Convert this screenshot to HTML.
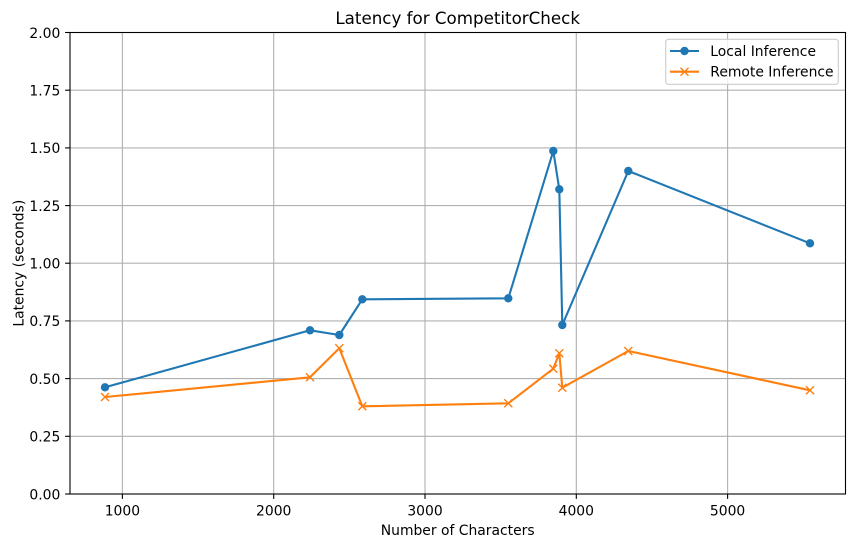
<!DOCTYPE html>
<html><head><meta charset="utf-8"><style>
html,body{margin:0;padding:0;background:#fff;}
svg{display:block;font-family:"DejaVu Sans","Liberation Sans",sans-serif;}
</style></head><body>
<svg width="855" height="547" viewBox="0 0 855 547" xmlns="http://www.w3.org/2000/svg">
<rect width="855" height="547" fill="#fff"/>
<g stroke="#b0b0b0" stroke-width="1.1">
<line x1="122.4" y1="32.5" x2="122.4" y2="494"/>
<line x1="273.7" y1="32.5" x2="273.7" y2="494"/>
<line x1="425" y1="32.5" x2="425" y2="494"/>
<line x1="576.3" y1="32.5" x2="576.3" y2="494"/>
<line x1="727.6" y1="32.5" x2="727.6" y2="494"/>
<line x1="70" y1="436.3" x2="845.5" y2="436.3"/>
<line x1="70" y1="378.6" x2="845.5" y2="378.6"/>
<line x1="70" y1="320.9" x2="845.5" y2="320.9"/>
<line x1="70" y1="263.2" x2="845.5" y2="263.2"/>
<line x1="70" y1="205.6" x2="845.5" y2="205.6"/>
<line x1="70" y1="147.9" x2="845.5" y2="147.9"/>
<line x1="70" y1="90.2" x2="845.5" y2="90.2"/>
</g>
<!-- Local -->
<polyline fill="none" stroke="#1f77b4" stroke-width="2.1" stroke-linejoin="round" points="105,387.3 310,330.3 339.3,335 362.3,299.3 508.3,298.3 553.3,151 559.3,189.3 562.3,325 628.3,171 810,243.3"/>
<g fill="#1f77b4">
<circle cx="105" cy="387.3" r="4.2"/><circle cx="310" cy="330.3" r="4.2"/><circle cx="339.3" cy="335" r="4.2"/><circle cx="362.3" cy="299.3" r="4.2"/><circle cx="508.3" cy="298.3" r="4.2"/><circle cx="553.3" cy="151" r="4.2"/><circle cx="559.3" cy="189.3" r="4.2"/><circle cx="562.3" cy="325" r="4.2"/><circle cx="628.3" cy="171" r="4.2"/><circle cx="810" cy="243.3" r="4.2"/>
</g>
<!-- Remote -->
<polyline fill="none" stroke="#ff7f0e" stroke-width="2.1" stroke-linejoin="round" points="105,397 310,377.3 339.3,348.3 362.3,406.3 508.3,403.3 553.3,368.7 559.3,353.3 562.3,387.7 628.3,351 810,390.3"/>
<g stroke="#ff7f0e" stroke-width="1.4" fill="none">
<path d="M101,393 l8,8 M109,393 l-8,8"/>
<path d="M306,373.3 l8,8 M314,373.3 l-8,8"/>
<path d="M335.3,344.3 l8,8 M343.3,344.3 l-8,8"/>
<path d="M358.3,402.3 l8,8 M366.3,402.3 l-8,8"/>
<path d="M504.3,399.3 l8,8 M512.3,399.3 l-8,8"/>
<path d="M549.3,364.7 l8,8 M557.3,364.7 l-8,8"/>
<path d="M555.3,349.3 l8,8 M563.3,349.3 l-8,8"/>
<path d="M558.3,383.7 l8,8 M566.3,383.7 l-8,8"/>
<path d="M624.3,347 l8,8 M632.3,347 l-8,8"/>
<path d="M806,386.3 l8,8 M814,386.3 l-8,8"/>
</g>
<!-- axes frame -->
<rect x="70" y="32.5" width="775.5" height="461.5" fill="none" stroke="#000" stroke-width="1.1"/>
<!-- ticks -->
<g stroke="#000" stroke-width="1.1">
<line x1="122.4" y1="494" x2="122.4" y2="498.9"/>
<line x1="273.7" y1="494" x2="273.7" y2="498.9"/>
<line x1="425" y1="494" x2="425" y2="498.9"/>
<line x1="576.3" y1="494" x2="576.3" y2="498.9"/>
<line x1="727.6" y1="494" x2="727.6" y2="498.9"/>
<line x1="65.1" y1="494" x2="70" y2="494"/>
<line x1="65.1" y1="436.3" x2="70" y2="436.3"/>
<line x1="65.1" y1="378.6" x2="70" y2="378.6"/>
<line x1="65.1" y1="320.9" x2="70" y2="320.9"/>
<line x1="65.1" y1="263.2" x2="70" y2="263.2"/>
<line x1="65.1" y1="205.6" x2="70" y2="205.6"/>
<line x1="65.1" y1="147.9" x2="70" y2="147.9"/>
<line x1="65.1" y1="90.2" x2="70" y2="90.2"/>
<line x1="65.1" y1="32.5" x2="70" y2="32.5"/>
</g>
<g font-size="13.9" fill="#000" text-anchor="middle">
<text x="122.4" y="515.5">1000</text>
<text x="273.7" y="515.5">2000</text>
<text x="425" y="515.5">3000</text>
<text x="576.3" y="515.5">4000</text>
<text x="727.6" y="515.5">5000</text>
</g>
<g font-size="13.9" fill="#000" text-anchor="end">
<text x="60.3" y="499.3">0.00</text>
<text x="60.3" y="441.6">0.25</text>
<text x="60.3" y="383.9">0.50</text>
<text x="60.3" y="326.2">0.75</text>
<text x="60.3" y="268.5">1.00</text>
<text x="60.3" y="210.9">1.25</text>
<text x="60.3" y="153.2">1.50</text>
<text x="60.3" y="95.5">1.75</text>
<text x="60.3" y="37.8">2.00</text>
</g>
<text x="457.7" y="535" font-size="13.9" text-anchor="middle" fill="#000">Number of Characters</text>
<text transform="translate(23.5,263.2) rotate(-90)" font-size="13.9" text-anchor="middle" fill="#000">Latency (seconds)</text>
<text x="457.7" y="24" font-size="16.7" text-anchor="middle" fill="#000">Latency for CompetitorCheck</text>
<!-- legend -->
<rect x="665.7" y="39.3" width="172.6" height="45" rx="2.8" fill="#fff" fill-opacity="0.8" stroke="#cccccc" stroke-width="1.1"/>
<line x1="670" y1="51" x2="699" y2="51" stroke="#1f77b4" stroke-width="2.1"/>
<circle cx="684.5" cy="51" r="4.2" fill="#1f77b4"/>
<line x1="670" y1="71.7" x2="699" y2="71.7" stroke="#ff7f0e" stroke-width="2.1"/>
<path d="M680.5,67.7 l8,8 M688.5,67.7 l-8,8" stroke="#ff7f0e" stroke-width="1.4"/>
<text x="710.3" y="56" font-size="13.9" fill="#000">Local Inference</text>
<text x="710.3" y="76.7" font-size="13.9" fill="#000">Remote Inference</text>
</svg>
</body></html>
